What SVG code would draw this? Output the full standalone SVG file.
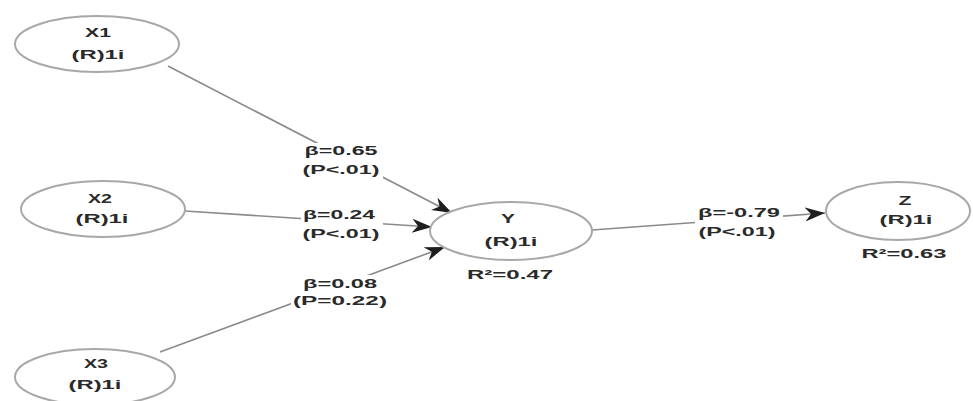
<svg xmlns="http://www.w3.org/2000/svg" width="973" height="401" viewBox="0 0 973 401">
<style>
.node ellipse{fill:#fff;stroke:#a8a8a8;stroke-width:2}
text{font-family:"Liberation Sans",Arial,sans-serif;font-weight:bold;font-size:13px;fill:#2a2a2a;text-anchor:middle}
.edge{stroke:#8a8a8a;stroke-width:1.6;fill:none;marker-end:url(#arr)}
.bg{fill:#fff}
</style>
<defs>
<marker id="arr" markerUnits="userSpaceOnUse" markerWidth="22" markerHeight="16" refX="20" refY="7" orient="auto">
<path d="M0,0 L20,7 L0,14 L6,7 Z" fill="#1e1e1e"/>
</marker>
</defs>
<rect width="973" height="401" fill="#fff"/>
<g id="connectors">
<line class="edge" x1="168" y1="66" x2="452" y2="213"/>
<line class="edge" x1="185" y1="211" x2="432" y2="227"/>
<line class="edge" x1="160" y1="352" x2="445" y2="247"/>
<line class="edge" x1="592" y1="230" x2="825" y2="213"/>
<rect class="bg" x="301" y="143" width="82" height="35"/>
<rect class="bg" x="301" y="207" width="82" height="35"/>
<rect class="bg" x="291" y="275" width="100" height="34"/>
<rect class="bg" x="695" y="204" width="88" height="35"/>
<text x="341" y="155" textLength="73" lengthAdjust="spacingAndGlyphs">β=0.65</text>
<text x="341" y="174" textLength="77" lengthAdjust="spacingAndGlyphs">(P&lt;.01)</text>
<text x="339" y="219" textLength="72" lengthAdjust="spacingAndGlyphs">β=0.24</text>
<text x="341" y="238" textLength="77" lengthAdjust="spacingAndGlyphs">(P&lt;.01)</text>
<text x="340" y="288" textLength="74" lengthAdjust="spacingAndGlyphs">β=0.08</text>
<text x="340" y="305" textLength="94" lengthAdjust="spacingAndGlyphs">(P=0.22)</text>
<text x="739" y="217" textLength="82" lengthAdjust="spacingAndGlyphs">β=-0.79</text>
<text x="737" y="236" textLength="77" lengthAdjust="spacingAndGlyphs">(P&lt;.01)</text>
</g>
<g id="X1" class="node">
<ellipse cx="97" cy="44" rx="82" ry="28"/>
<text x="98" y="37" textLength="26" lengthAdjust="spacingAndGlyphs">X1</text>
<text x="98" y="59" textLength="53" lengthAdjust="spacingAndGlyphs">(R)1i</text>
</g>
<g id="X2" class="node">
<ellipse cx="103" cy="209" rx="82" ry="28"/>
<text x="100" y="203" textLength="24" lengthAdjust="spacingAndGlyphs">X2</text>
<text x="102" y="223" textLength="53" lengthAdjust="spacingAndGlyphs">(R)1i</text>
</g>
<g id="X3" class="node">
<ellipse cx="95" cy="377" rx="80" ry="28"/>
<text x="96" y="368" textLength="24" lengthAdjust="spacingAndGlyphs">X3</text>
<text x="95" y="389" textLength="53" lengthAdjust="spacingAndGlyphs">(R)1i</text>
</g>
<g id="Y" class="node">
<ellipse cx="511" cy="231" rx="81" ry="29"/>
<text x="508" y="223" textLength="14" lengthAdjust="spacingAndGlyphs">Y</text>
<text x="511" y="246" textLength="53" lengthAdjust="spacingAndGlyphs">(R)1i</text>
<text x="510" y="279" textLength="86" lengthAdjust="spacingAndGlyphs">R²=0.47</text>
</g>
<g id="Z" class="node">
<ellipse cx="898" cy="211" rx="72" ry="29"/>
<text x="905" y="205" textLength="13" lengthAdjust="spacingAndGlyphs">Z</text>
<text x="906" y="224" textLength="53" lengthAdjust="spacingAndGlyphs">(R)1i</text>
<text x="904" y="258" textLength="85" lengthAdjust="spacingAndGlyphs">R²=0.63</text>
</g>
</svg>
